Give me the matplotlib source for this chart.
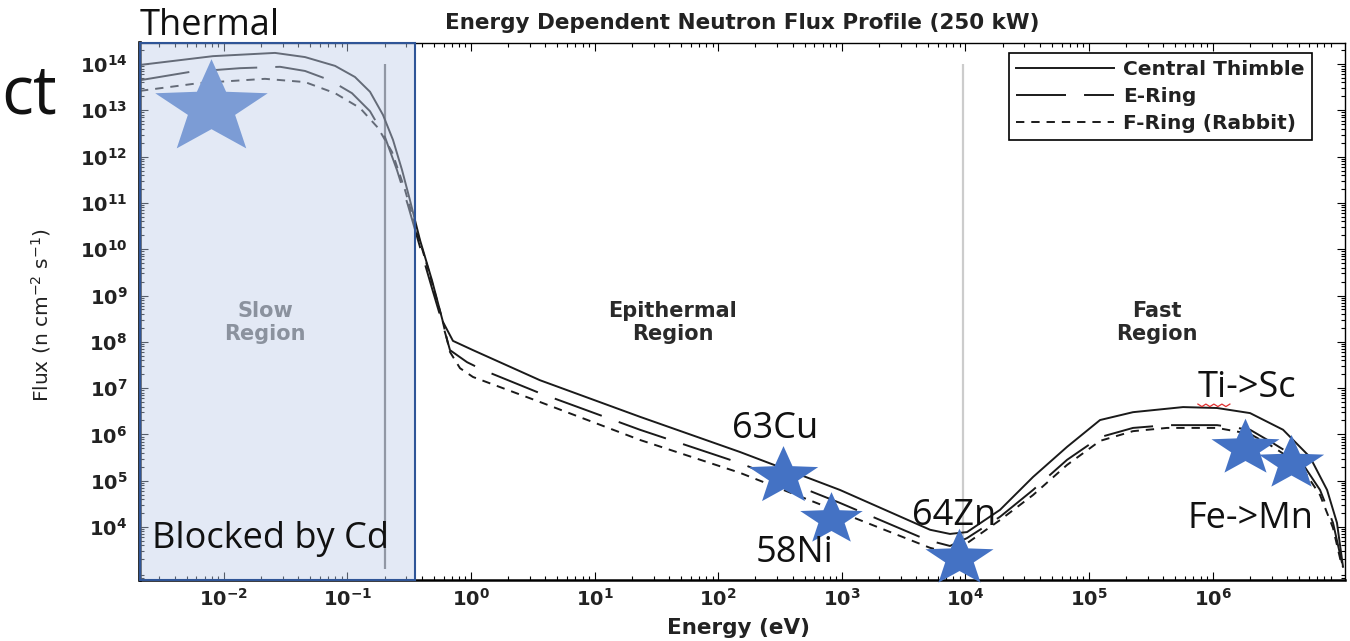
import numpy as np
import matplotlib
matplotlib.use('Agg')
import matplotlib.pyplot as plt
import matplotlib.transforms as mtransforms
from matplotlib.path import Path
from matplotlib.patches import Rectangle
from matplotlib.lines import Line2D

plt.rcParams['lines.scale_dashes'] = False

# ---- flux profiles: log10(E / eV), log10(flux)
ct_logE = [-2.678, -2.087, -1.586, -1.343, -1.100, -0.939, -0.817, -0.712, -0.631, -0.558,
           -0.494, -0.413, -0.316, -0.227, -0.146, 0.016, 0.558, 1.367, 2.176, 2.985,
           3.714, 3.875, 4.013, 4.280, 4.547, 4.822, 5.089, 5.356, 5.761, 6.036,
           6.303, 6.570, 6.788, 6.926, 7.006, 7.055]
ct_logF = [13.98, 14.17, 14.24, 14.15, 13.96, 13.72, 13.40, 12.90, 12.36, 11.71,
           11.06, 10.20, 9.33, 8.43, 8.02, 7.82, 7.17, 6.38, 5.62, 4.80,
           3.94, 3.85, 3.89, 4.37, 5.08, 5.73, 6.31, 6.48, 6.59, 6.57,
           6.46, 6.10, 5.51, 4.80, 4.09, 3.14]

er_logE = [-2.678, -2.273, -1.869, -1.545, -1.343, -1.141, -0.963, -0.817, -0.696, -0.599,
           -0.510, -0.413, -0.316, -0.227, -0.170, -0.032, 0.097, 0.558, 1.367, 2.176,
           2.985, 3.689, 3.875, 4.013, 4.280, 4.547, 4.822, 5.089, 5.356, 5.631,
           6.036, 6.303, 6.489, 6.707, 6.869, 6.974, 7.047]
er_logF = [13.65, 13.83, 13.91, 13.94, 13.85, 13.65, 13.37, 12.98, 12.42, 11.71,
           10.95, 10.05, 9.16, 8.36, 7.82, 7.56, 7.39, 6.89, 6.10, 5.38,
           4.52, 3.72, 3.59, 3.76, 4.22, 4.80, 5.45, 5.94, 6.14, 6.20,
           6.20, 6.10, 5.81, 5.45, 4.80, 4.09, 3.22]

fr_logE = [-2.678, -2.193, -1.667, -1.343, -1.100, -0.898, -0.752, -0.639, -0.534, -0.429,
           -0.332, -0.235, -0.170, -0.089, 0.016, 0.558, 1.367, 2.176, 2.985, 3.714,
           3.875, 4.013, 4.280, 4.547, 4.822, 5.089, 5.356, 5.631, 6.036, 6.303,
           6.489, 6.707, 6.869, 6.974, 7.047]
fr_logF = [13.42, 13.59, 13.68, 13.61, 13.37, 13.05, 12.62, 12.10, 11.28, 10.31,
           9.44, 8.51, 7.78, 7.43, 7.24, 6.70, 5.88, 5.17, 4.32, 3.55,
           3.44, 3.65, 4.15, 4.69, 5.34, 5.86, 6.07, 6.14, 6.14, 6.01,
           5.73, 5.34, 4.69, 3.98, 3.14]

series_labels = ['Central Thimble', 'E-Ring', 'F-Ring (Rabbit)']

# stars pasted on the slide (energy in eV, flux)
star_names = ['Thermal', '63Cu', '58Ni', '64Zn', 'Ti->Sc', 'Fe->Mn']
star_E = [7.9e-3, 336, 822, 8.9e3, 1.82e6, 4.3e6]
star_F = [1.1e13, 1.26e5, 1.5e4, 2.1e3, 5.1e5, 2.4e5]

slow_edge = 0.2      # eV, grey divider
fast_edge = 9.5e3    # eV, grey divider
cd_cutoff = 0.35     # eV, edge of the shaded "blocked" box

xtick_exps = list(range(-2, 7))
ytick_exps = list(range(4, 15))

# ---- figure
fig = plt.figure(figsize=(13.5, 6.41), dpi=100)
ax = fig.add_axes([140/1350, 61/641, 1205/1350, 537/641])
ax.set_xscale('log')
ax.set_yscale('log')
ax.set_xlim(10**-2.678, 10**7.071)
ax.set_ylim(10**2.855, 10**14.454)

ink = '#1a1a1a'
ax.plot(10**np.array(ct_logE), 10**np.array(ct_logF), color=ink, lw=1.4,
        label=series_labels[0], zorder=2)
l2, = ax.plot(10**np.array(er_logE), 10**np.array(er_logF), color=ink, lw=1.4,
              label=series_labels[1], zorder=2)
l2.set_dashes([36, 13])
l3, = ax.plot(10**np.array(fr_logE), 10**np.array(fr_logF), color=ink, lw=1.4,
              label=series_labels[2], zorder=2)
l3.set_dashes([6, 5])

ax.vlines(slow_edge, 10**3.1, 10**14, color='#6a6a6a', lw=1.6, zorder=1)
ax.vlines(fast_edge, 10**3.1, 10**14, color='#cccccc', lw=1.6, zorder=1)

# region labels
reg_kw = dict(ha='center', va='center', fontsize=15, fontweight='bold',
              family='DejaVu Sans', linespacing=1.2)
ax.text(0.0215, 2.6e8, 'Slow\nRegion', color='#606060', zorder=3, **reg_kw)
ax.text(43, 2.6e8, 'Epithermal\nRegion', color='#2a2a2a', zorder=3, **reg_kw)
ax.text(3.55e5, 2.6e8, 'Fast\nRegion', color='#2a2a2a', zorder=3, **reg_kw)

# ticks
ax.set_xticks([10.0**e for e in xtick_exps],
              [r'$\mathbf{10^{%d}}$' % e for e in xtick_exps])
ax.set_yticks([10.0**e for e in ytick_exps],
              [r'$\mathbf{10^{%d}}$' % e for e in ytick_exps])
ax.xaxis.set_minor_locator(matplotlib.ticker.LogLocator(base=10, subs=np.arange(2, 10), numticks=30))
ax.yaxis.set_minor_locator(matplotlib.ticker.LogLocator(base=10, subs=np.arange(2, 10), numticks=30))
ax.xaxis.set_minor_formatter(matplotlib.ticker.NullFormatter())
ax.yaxis.set_minor_formatter(matplotlib.ticker.NullFormatter())
ax.tick_params(which='both', direction='in', top=True, right=True, width=0.8,
               labelsize=14, labelcolor='#222222')
ax.tick_params(which='major', length=6)
ax.tick_params(which='minor', length=3)
ax.tick_params(axis='y', pad=9)
ax.tick_params(axis='x', pad=6)
ax.spines['left'].set_linewidth(2.6)
ax.spines['bottom'].set_linewidth(1.8)
ax.spines['top'].set_linewidth(1.0)
ax.spines['right'].set_linewidth(1.0)

ax.set_title('Energy Dependent Neutron Flux Profile (250 kW)', fontsize=15.5,
             fontweight='bold', color='#222222', pad=10)
ax.set_xlabel('Energy (eV)', fontsize=15.5, fontweight='bold', color='#222222', va='top')
ax.xaxis.set_label_coords(0.497, -0.07)
ax.set_ylabel(r'Flux (n cm$^{-2}$ s$^{-1}$)', fontsize=14.5, color='#222222')
ax.yaxis.set_label_coords(-0.072, 0.493)

leg = ax.legend(loc='upper right', bbox_to_anchor=(0.9726, 0.981), borderaxespad=0,
                fancybox=False, edgecolor='black', framealpha=1,
                prop=dict(family='DejaVu Sans', weight='bold', size=14.5),
                handlelength=4.9, handletextpad=0.45, borderpad=0.35,
                labelspacing=0.38)
leg.get_frame().set_linewidth(1.2)
for t in leg.get_texts():
    t.set_color('#222222')
leg.set_zorder(10)

# ---- slide overlay: stars, shaded box, labels
angles = np.pi / 2 + np.arange(10) * np.pi / 5
radii = np.where(np.arange(10) % 2 == 0, 1.0, 0.42)
verts = np.column_stack([1.2 * radii * np.cos(angles), radii * np.sin(angles)])
star = Path(np.vstack([verts, verts[:1]]), closed=True)

star_sizes = [81, 50, 45, 49, 49, 47]
for e, f, s in zip(star_E, star_F, star_sizes):
    ax.plot(e, f, ls='none', marker=star, ms=s, color='#4472c4', mec='none',
            zorder=3, clip_on=False)

trans = mtransforms.blended_transform_factory(ax.transData, ax.transAxes)
x0 = ax.get_xlim()[0]
ax.add_patch(Rectangle((x0, 0), cd_cutoff - x0, 1, transform=trans,
                       facecolor='#c1d0eb', alpha=0.45, edgecolor='none', zorder=4))
ax.add_patch(Rectangle((x0, 0), cd_cutoff - x0, 1, transform=trans,
                       facecolor='none', edgecolor='#2f5597', lw=1.5, zorder=4.1,
                       clip_on=False))

slide_kw = dict(family='Open Sans', fontsize=26, color='#111111', ha='left',
                va='baseline', zorder=6)
ax.text(0.0, 1.015, star_names[0], transform=ax.transAxes, clip_on=False, **slide_kw)
ax.text(129, 8.3e5, star_names[1], **slide_kw)
ax.text(199, 1.75e3, star_names[2], **slide_kw)
ax.text(3.7e3, 1.1e4, star_names[3], **slide_kw)
ti = ax.text(7.6e5, 6.4e6, star_names[4], **slide_kw)
ax.text(6.3e5, 9.5e3, star_names[5], **slide_kw)
ax.text(2.62e-3, 3.5e3, 'Blocked by Cd', **slide_kw)

fig.text(1/1350, 1 - 114/641, 'ct', family='Open Sans', fontsize=48,
         color='#111111', ha='left', va='baseline')

# red spell-check squiggle under "Ti"
ax0 = ax.transData.transform((7.6e5, 6.4e6))
wx = ax0[0] + np.arange(0, 34, 4)
wy = ax0[1] - 7 - 2.5 * (np.arange(len(wx)) % 2)
fig.add_artist(Line2D(wx, wy, color='#e03030', lw=0.9,
                      transform=mtransforms.IdentityTransform()))

fig.savefig('out.png', dpi=100)
